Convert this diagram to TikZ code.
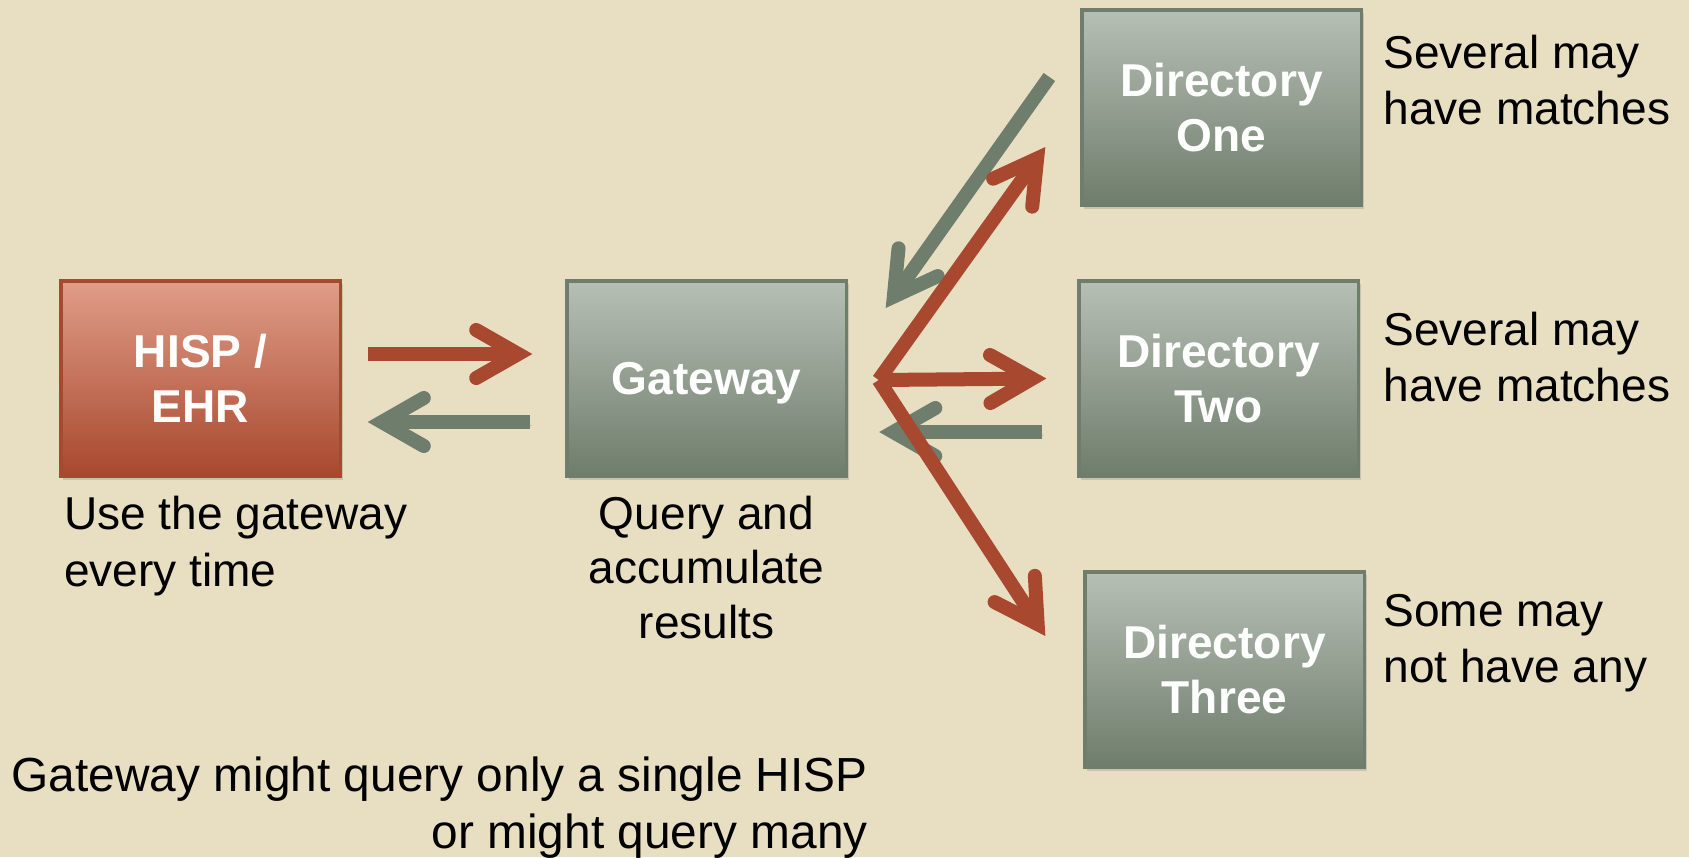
\documentclass[tikz,border=0pt]{standalone}
\usepackage{fontspec}
\setmainfont{Liberation Sans}
\usepackage{tikz}
\usetikzlibrary{arrows.meta,calc,positioning,shadows}
\definecolor{paper}{HTML}{E8DFC3}
\definecolor{rust}{HTML}{A8482E}
\definecolor{rustlight}{HTML}{E09D88}
\definecolor{sage}{HTML}{6F7D6C}
\definecolor{sagelight}{HTML}{B6BFB5}
\tikzset{
  cardbase/.style={rectangle, minimum width=2.79cm, minimum height=1.95cm, inner sep=0pt, line width=0.9pt,
    align=center, text=white, font=\fontsize{13.1pt}{15.6pt}\selectfont\bfseries,
    drop shadow={shadow xshift=0.025cm, shadow yshift=-0.035cm, opacity=0.3}},
  dircard/.style={cardbase, draw=sage, top color=sagelight, bottom color=sage},
  ehrcard/.style={cardbase, draw=rust, top color=rustlight, bottom color=rust},
  note/.style={inner sep=0pt, font=\fontsize{13.1pt}{16pt}\selectfont},
  ask/.style={draw=rust, line width=0.14cm, -{Straight Barb[length=4.2mm,width=4.8mm,line cap=round,line join=miter]},
    preaction={draw=black, draw opacity=0.12, transform canvas={xshift=0.02cm, yshift=-0.035cm}}},
  reply/.style={ask, draw=sage},
}
\begin{document}
\begin{tikzpicture}[x=0.01cm,y=-0.01cm]
\fill[paper] (0,0) rectangle (1689,857);
\useasboundingbox (0,0) rectangle (1689,857);
\node[ehrcard] (ehr) at (200.5,378.5) {HISP /\\EHR};
\node[dircard, text depth=0pt] (gate) at (706.5,378.5) {Gateway};
\node[dircard] (dirone) at (1221.5,107.5) {Directory\\One};
\node[dircard] (dirtwo) at (1218.5,378.5) {Directory\\Two};
\node[dircard] (dirthree) at (1224.5,669.5) {Directory\\Three};
\node[note, anchor=north west, align=left] (ehrtext) at ($(ehr.south west)+(4,18)$) {Use the gateway\\every time};
\node[note, anchor=north, align=center, font=\fontsize{13.1pt}{15.4pt}\selectfont] (gatetext) at ($(gate.south)+(0,18)$) {Query and\\accumulate\\results};
\node[note, anchor=north west, align=left] (onetext) at ($(dirone.north east)+(20,26)$) {Several may\\have matches};
\node[note, anchor=north west, align=left] (twotext) at ($(dirtwo.north east)+(23,32)$) {Several may\\have matches};
\node[note, anchor=north west, align=left] (threetext) at ($(dirthree.north east)+(17,23)$) {Some may\\not have any};
\node[note, anchor=north west, align=right, font=\fontsize{13.6pt}{16.2pt}\selectfont] (remark) at (11,756) {Gateway might query only a single HISP\\or might query many};
\coordinate (fan) at ($(gate.east)+(31,1.5)$);
\draw[reply] ($(gate.west)+(-35,43.5)$) -- ($(ehr.east)+(26,43.5)$);
\draw[reply] ($(dirone.west)+(-31,-30.5)$) -- ($(gate.east)+(38,-70.5)$);
\draw[reply] ($(dirtwo.west)+(-35,53.5)$) -- ($(gate.east)+(31.5,53.5)$);
\draw[ask] ($(ehr.east)+(26,-24.5)$) -- ($(gate.west)+(-33,-24.5)$);
\draw[ask] (fan) -- ($(dirone.west)+(-35,39.5)$);
\draw[ask] (fan) -- ($(dirtwo.west)+(-31,0)$);
\draw[ask] (fan) -- ($(dirthree.west)+(-38,-33.5)$);
\end{tikzpicture}
\end{document}
